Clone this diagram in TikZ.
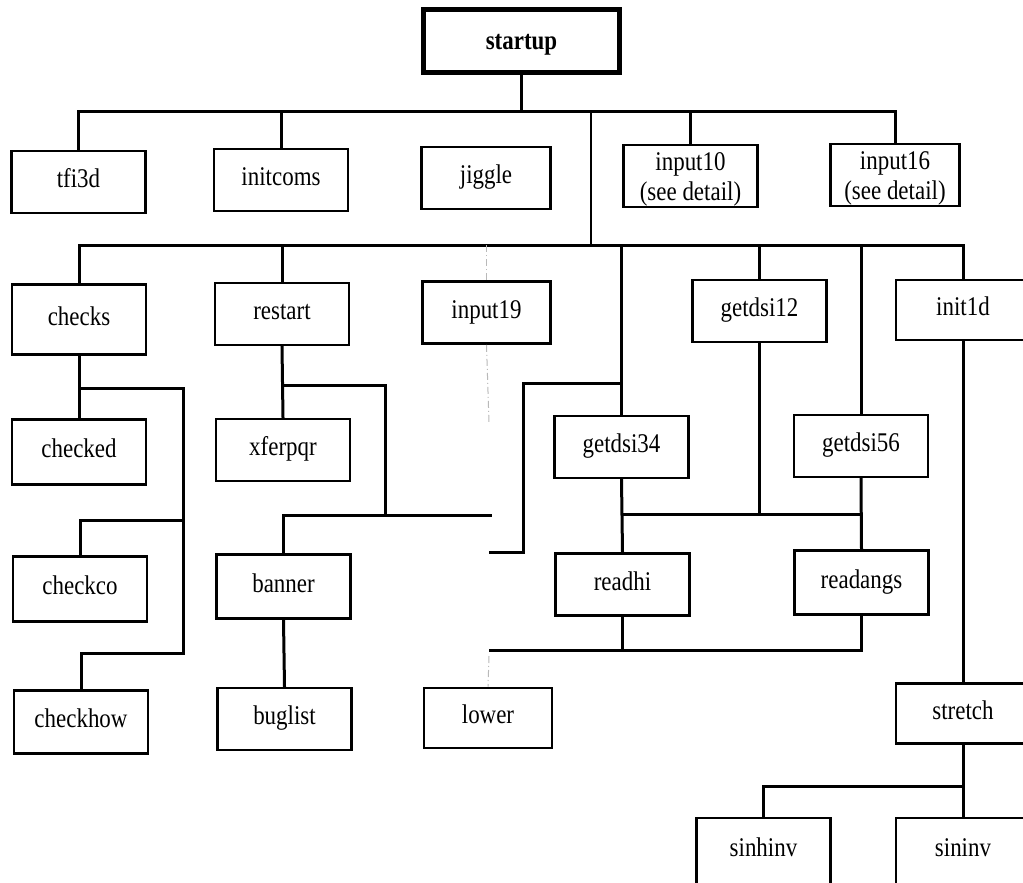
\documentclass[tikz,border=0pt]{standalone}
\usepackage{fontspec}
\setmainfont{Liberation Serif}[FakeStretch=0.85]
\begin{document}
\begin{tikzpicture}[x=1pt,y=-1pt,
  blk/.style={draw, line width=2.6pt, inner sep=0pt, align=center,
    minimum width=134pt, minimum height=62pt,
    font=\fontsize{27}{30}\selectfont},
  sbox/.style={blk, text height=17.5pt, text depth=6pt},
  twoline/.style={blk, text height=48pt, text depth=0pt},
  topbox/.style={blk, text height=20.5pt, text depth=4pt, line width=5.5pt,
    minimum width=196pt, minimum height=63pt,
    font=\fontsize{27}{30}\selectfont\bfseries},
  wire/.style={line width=3pt, line join=miter, line cap=rect},
  thinwire/.style={line width=2pt},
  faint/.style={line width=1pt, gray!55, dash pattern=on 7pt off 3pt on 1pt off 3pt}]
\useasboundingbox (0,0) rectangle (1023,883);
\clip (0,0) rectangle (1023,883);

% ---- nodes ----
\node[topbox] (startup) at (521.5,41) {startup};

\node[sbox] (tfi3d)    at (78.5,182)  {tfi3d};
\node[sbox] (initcoms) at (281,180)   {initcoms};
\node[sbox, minimum width=129pt] (jiggle) at (486,178) {jiggle};
\node[twoline] (input10) at (690.5,176) {input10\\(see detail)};
\node[twoline, minimum width=129pt] (input16) at (895,175) {input16\\(see detail)};

\node[sbox, minimum height=70pt] (checks) at (79,319.5) {checks};
\node[sbox] (restart)  at (282,314)   {restart};
\node[sbox, minimum width=128pt] (input19) at (486.5,312.5) {input19};
\node[sbox] (getdsi12) at (759.5,311) {getdsi12};
\node[sbox, minimum height=60pt] (init1d) at (963,310) {init1d};

\node[sbox, minimum height=65pt] (checked) at (79,452) {checked};
\node[sbox] (xferpqr)  at (283,450)   {xferpqr};
\node[sbox] (getdsi34) at (621.5,447) {getdsi34};
\node[sbox] (getdsi56) at (861,446)   {getdsi56};

\node[sbox, minimum height=65pt] (checkco) at (80,589) {checkco};
\node[sbox, minimum height=64pt] (banner) at (283.5,586.5) {banner};
\node[sbox] (readhi)   at (622.5,584.5) {readhi};
\node[sbox, minimum height=64pt] (readangs) at (861.5,582.5) {readangs};

\node[sbox, minimum height=63pt] (checkhow) at (81,722) {checkhow};
\node[sbox] (buglist)  at (284.5,719) {buglist};
\node[sbox, minimum width=128pt, minimum height=60pt] (lower) at (488,718) {lower};
\node[sbox, minimum height=60pt] (stretch) at (963,713.5) {stretch};

\node[sbox, minimum height=66pt] (sinhinv) at (763.5,851) {sinhinv};
\node[sbox, minimum height=66pt] (sininv)  at (963,851)   {sininv};

% ---- bus coordinates ----
\coordinate (b1) at (521.5,111);
\coordinate (b1r) at (591,111);
\coordinate (b2) at (591,245);

% first level
\draw[wire] (startup.south) -- (b1);
\draw[wire] (tfi3d.north) |- (b1);
\draw[wire] (initcoms.north) |- (b1);
\draw[wire] (input10.north) |- (b1);
\draw[wire] (input16.north) |- (b1);
\draw[thinwire] (b1r) -- (b2);

% second level
\draw[wire] (checks.north) |- (b2);
\draw[wire] (restart.north) |- (b2);
\draw[wire] (init1d.north) |- (b2);
\draw[wire] (getdsi12.north) |- (b2);
\draw[wire] (getdsi56.north) -- (getdsi56.north |- b2);
\draw[wire] (getdsi34.north) -- (getdsi34.north |- b2);

% checks branch
\coordinate (cj) at (183,388);
\coordinate (cm) at (183,520);
\coordinate (cb) at (183,653);
\draw[wire] (checks.south) -- (checked.north);
\draw[wire] (checks.south |- cj) -- (cj) -- (cb) -| (checkhow.north);
\draw[wire] (checkco.north) |- (cm);

% restart branch
\coordinate (rj) at (385,385);
\coordinate (rb) at (385,515);
\coordinate (re) at (490,515);
\draw[wire] (restart.south) -- (xferpqr.north);
\draw[wire] (restart.south |- rj) -- (rj) -- (rb);
\draw[wire] (banner.north) |- (re);
\draw[wire] (banner.south) -- (buglist.north);

% getdsi34 side branch
\coordinate (g1) at (523,383);
\coordinate (g2) at (490,552);
\draw[wire] (getdsi34.north |- g1) -- (g1) |- (g2);

% getdsi group
\coordinate (m) at (761,514);
\draw[wire] (getdsi34.south) -- (readhi.north);
\draw[wire] (getdsi56.south) -- (readangs.north);
\draw[wire] (readhi.north |- m) -- (readangs.north |- m);
\draw[wire] (getdsi12.south) -- (getdsi12.south |- m);

% readhi / readangs joint
\coordinate (lb) at (490,650);
\draw[wire] (readangs.south) |- (lb);
\draw[wire] (readhi.south) -- (readhi.south |- lb);

% faint links
\coordinate (d1) at (489,423);
\coordinate (d2) at (489,656);
\draw[faint] (input19.north |- b2) -- (input19.north);
\draw[faint] (input19.south) -- (d1);
\draw[faint] (d2) -- (lower.north);

% init1d branch
\coordinate (sj) at (963,786);
\draw[wire] (init1d.south) -- (stretch.north);
\draw[wire] (stretch.south) -- (sininv.north);
\draw[wire] (sinhinv.north) |- (sj);
\end{tikzpicture}
\end{document}
